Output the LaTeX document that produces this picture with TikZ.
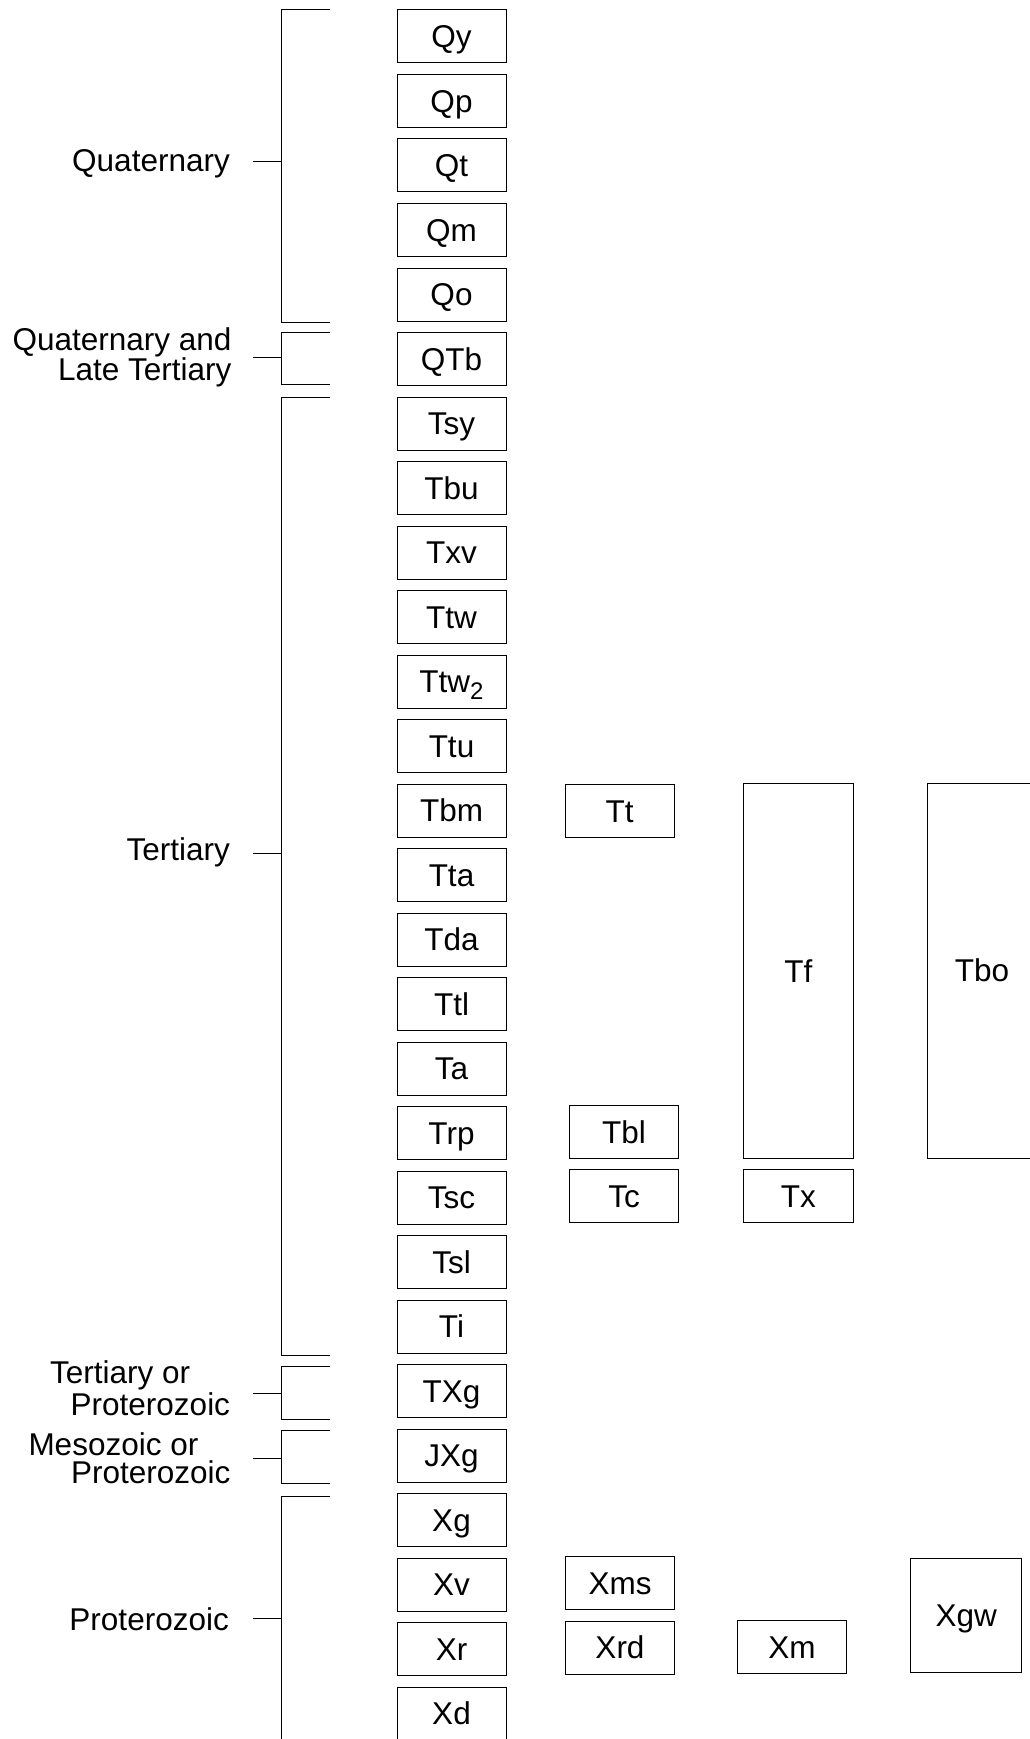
\documentclass[tikz,border=0pt]{standalone}
\usepackage{fontspec}
\setmainfont{Liberation Sans}
\begin{document}
\begin{tikzpicture}[x=1pt,y=-1pt,
  font=\fontsize{31.5}{34}\selectfont,
  unitbox/.style={draw=black, line width=1pt, inner sep=0pt, minimum width=109pt, minimum height=53pt, text height=22.5pt, text depth=0pt},
  lbl/.style={inner sep=0pt},
  brk/.style={line width=1pt, draw=black}]
\useasboundingbox (0,0) rectangle (1029,1739);
% main column
\foreach \n/\t [count=\i from 0] in {Qy/Qy, Qp/Qp, Qt/Qt, Qm/Qm, Qo/Qo, QTb/QTb,
  Tsy/Tsy, Tbu/Tbu, Txv/Txv, Ttw/Ttw, Ttwtwo/{Ttw\raisebox{-7pt}{\fontsize{24}{24}\selectfont 2}}, Ttu/Ttu,
  Tbm/Tbm, Tta/Tta, Tda/Tda, Ttl/Ttl, Ta/Ta, Trp/Trp, Tsc/Tsc, Tsl/Tsl, Ti/Ti,
  TXg/TXg, JXg/JXg, Xg/Xg, Xv/Xv, Xr/Xr, Xd/Xd}
  \node[unitbox] (\n) at (451.5, {36.5+64.5*\i}) {\t};
% other columns
\node[unitbox] (Tt) at (619.7,810.8) {Tt};
\node[unitbox, minimum width=110pt, minimum height=374.5pt] (Tf) at (798.3,971.2) {Tf};
\node[unitbox, minimum width=110pt, minimum height=375pt] (Tbo) at (982,970.5) {Tbo};
\node[unitbox] (Tbl) at (624,1132) {Tbl};
\node[unitbox] (Tc) at (624,1196.3) {Tc};
\node[unitbox, minimum width=110pt] (Tx) at (798.3,1195.8) {Tx};
\node[unitbox] (Xms) at (620,1583) {Xms};
\node[unitbox] (Xrd) at (620,1647.5) {Xrd};
\node[unitbox] (Xm) at (792,1647) {Xm};
\node[unitbox, minimum width=110.7pt, minimum height=114pt] (Xgw) at (966.3,1615.7) {Xgw};
% brackets
\foreach \top/\bot/\tick in {10/322/162, 332/384/357, 397/1355/853, 1366/1419/1393, 1430/1483/1458, 1496/1760/1618}{
  \draw[brk] (330,\top) -| (281,\bot) -- (330,\bot);
  \draw[brk] (253,\tick) -- (281,\tick);
}
% labels
\node[lbl, anchor=base east] (lQ) at (230,172) {Quaternary};
\node[lbl, anchor=base east, align=right, font=\fontsize{31.5}{30}\selectfont] (lQT) at (231.7,380) {Quaternary and\\Late Tertiary};
\node[lbl, anchor=base east] (lT) at (230,860) {Tertiary};
\node[lbl, anchor=base west, align=left, font=\fontsize{31.5}{31.7}\selectfont] (lTX) at (50,1415) {Tertiary or\\\hspace*{20.5pt}Proterozoic};
\node[lbl, anchor=base west, align=left, font=\fontsize{31.5}{28.3}\selectfont] (lJX) at (28.3,1483.3) {Mesozoic or\\\hspace*{42.5pt}Proterozoic};
\node[lbl, anchor=base east] (lX) at (229,1630) {Proterozoic};
\end{tikzpicture}
\end{document}
